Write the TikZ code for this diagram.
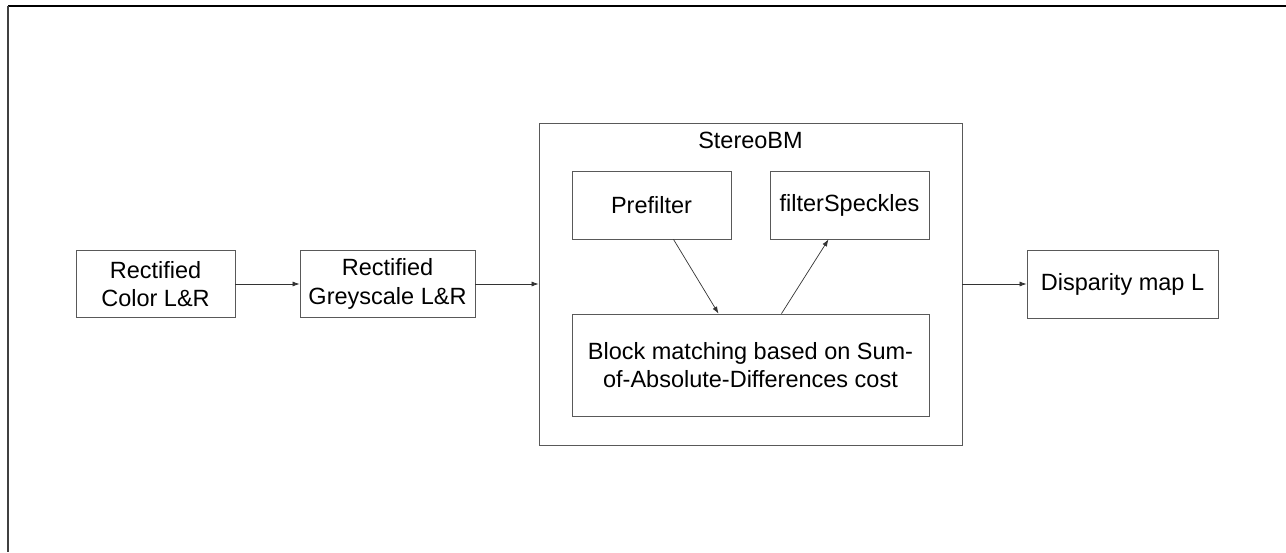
\documentclass[tikz,border=0pt]{standalone}
\usepackage{fontspec}
\setsansfont{Liberation Sans}
\tikzset{every picture/.style={/utils/exec={\sffamily}}}
\usetikzlibrary{calc}
\usetikzlibrary{positioning}
\usetikzlibrary{arrows.meta}

\tikzset{
  stage/.style={draw=black!65, line width=0.8pt, align=center,
    font=\fontsize{23.5}{28.5}\selectfont, inner sep=0pt},
  flow/.style={draw=black!80, line width=0.7pt,
    -{Latex[length=7pt,width=5pt]}},
}

\begin{document}
\begin{tikzpicture}[x=1pt, y=-1pt]
  \useasboundingbox (0,0) rectangle (1286,552);
  % frame edges
  \draw[line width=1.6pt] (8,6) -- (1286,6);
  \draw[line width=1.6pt, black!75] (8,6) -- (8,552);

  % input stages
  \node[stage, minimum width=159pt, minimum height=67pt] (color)
    at (155.5,284) {Rectified\\Color L\&R};
  \node[stage, minimum width=175pt, minimum height=67pt] (grey)
    at (387.5,284) {Rectified\\Greyscale L\&R};

  % matcher
  \node[stage, minimum width=423pt, minimum height=322pt] (stereo)
    at (750.5,284) {};
  \node[font=\fontsize{23.5}{28.5}\selectfont, inner sep=0pt] (title)
    at (750.5,140) {StereoBM};
  \node[stage, minimum width=159pt, minimum height=68pt] (prefilter)
    at (651.5,205) {Prefilter};
  \node[stage, minimum width=159pt, minimum height=68pt] (speckles)
    at (849.5,205) {filterSpeckles};
  \node[stage, minimum width=357pt, minimum height=102pt] (block)
    at (750.5,365) {Block matching based on Sum-\\of-Absolute-Differences cost};

  % output
  \node[stage, minimum width=191pt, minimum height=68pt] (disparity)
    at (1122.5,284) {Disparity map L};

  \draw[flow] (color) -- (grey);
  \draw[flow] (grey) -- (stereo);
  \draw[flow] (stereo) -- (disparity);
  \draw[flow] ([xshift=22pt]prefilter.south) -- ([xshift=-32pt]block.north);
  \draw[flow] ([xshift=31pt]block.north) -- ([xshift=-21pt]speckles.south);
\end{tikzpicture}
\end{document}
